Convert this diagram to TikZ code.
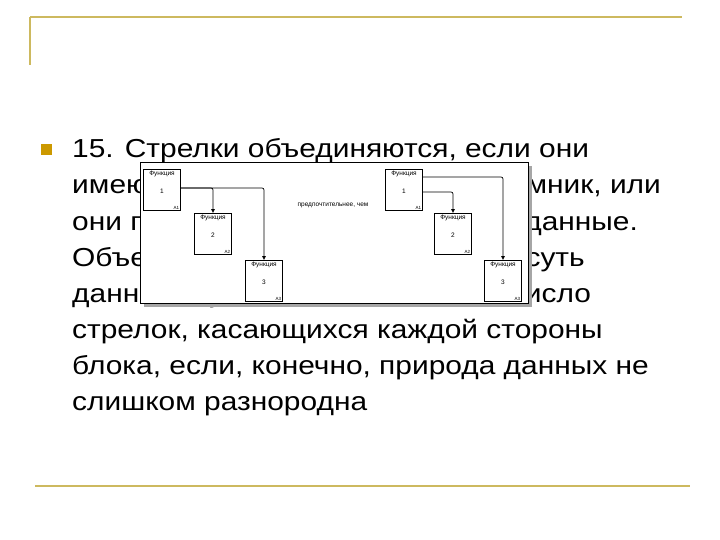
\documentclass[tikz,border=0pt]{standalone}
\usepackage{fontspec}
\setmainfont{Liberation Sans}
\usetikzlibrary{arrows.meta}
\begin{document}
\begin{tikzpicture}[x=1pt,y=-1pt,
  gold/.style={draw=gold, line width=1.6pt},
  bodytext/.style={anchor=base west, inner sep=0pt, xscale=1.15, font=\fontsize{26}{26}\selectfont},
  fbox/.style={draw, line width=0.6pt, minimum width=37pt, minimum height=41pt, inner sep=0pt},
  flow/.style={line width=0.7pt, -{Latex[length=4pt,width=4pt]}, rounded corners=2pt}]
\definecolor{gold}{RGB}{205,185,95}
\definecolor{bul}{RGB}{204,153,0}
\useasboundingbox (0,0) rectangle (720,540);
\fill[white] (0,0) rectangle (720,540);
% frame lines
\draw[gold] (30,17) -- (682,17);
\draw[gold] (30,17) -- (30,65);
\draw[gold] (35,486) -- (690,486);
% bullet
\fill[bul] (41,144) rectangle (52,155);
% body text
\node[bodytext] (l1) at (72,158) {15. Стрелки объединяются, если они};
\node[bodytext] (l2) at (72,194) {имеют общий источник или приемник, или};
\node[bodytext] (l3) at (72,230) {они представляют родственные данные.};
\node[bodytext] (l4) at (72,266) {Объединение стрелок отражает суть};
\node[bodytext] (l5) at (72,302) {данных и уменьшает их число, число};
\node[bodytext] (l6) at (72,338) {стрелок, касающихся каждой стороны};
\node[bodytext] (l7) at (72,374) {блока, если, конечно, природа данных не};
\node[bodytext] (l8) at (72,410) {слишком разнородна};
% inset
\fill[gray!70] (144,166) rectangle (532,307);
\draw[fill=white, line width=0.8pt] (140,162) rectangle (528,303);
\begin{scope}[font=\fontsize{6.5}{7}\selectfont]
\foreach \n/\x/\y/\k in {a/162/190/1, b/213/234/2, c/264/281/3, d/404/190/1, e/453/234/2, f/503/281/3}{
  \node[fbox] (\n) at (\x,\y) {};
  \node[anchor=north, inner sep=0pt] (\n t) at ([yshift=-2pt]\n.north) {Функция};
  \node[inner sep=0pt] (\n k) at ([yshift=-1pt]\n.center) {\k};
  \node[anchor=south east, inner sep=1.5pt, font=\fontsize{4.5}{5}\selectfont] (\n c) at (\n.south east) {A\k};
}
\node[inner sep=0pt] (mid) at (333,205) {предпочтительнее, чем};
\end{scope}
\draw[flow] (a.east |- 0,188) -| (b.north);
\draw[flow] (a.east |- 0,188) -| (c.north);
\draw[flow] (d.east |- 0,177) -| (f.north);
\draw[flow] (d.east |- 0,192) -| (e.north);
\end{tikzpicture}
\end{document}
